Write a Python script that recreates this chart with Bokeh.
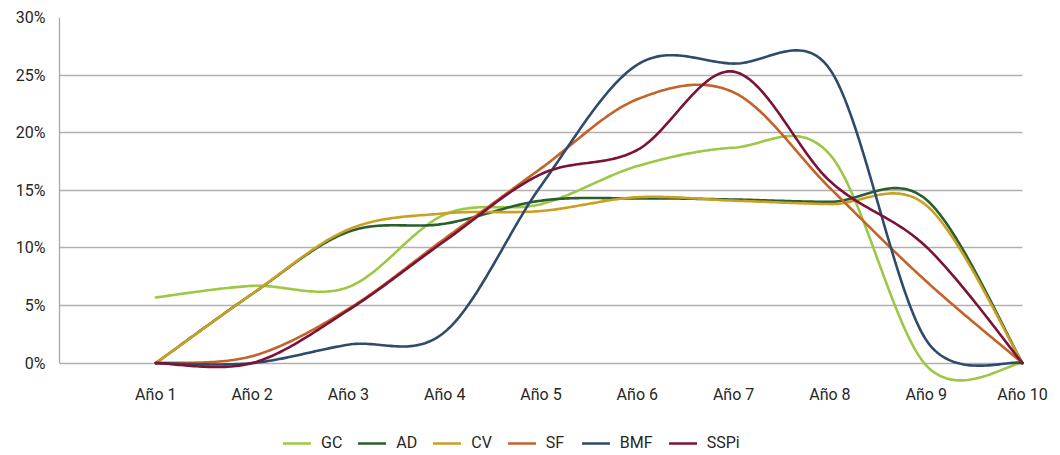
import math
import numpy as np
from bokeh.plotting import figure
from bokeh.models import Range1d, FixedTicker, Legend, LegendItem, Grid
from bokeh.embed import file_html
from bokeh.resources import INLINE

# ---- data (percent values) ----
years = ["Año 1", "Año 2", "Año 3", "Año 4", "Año 5",
         "Año 6", "Año 7", "Año 8", "Año 9", "Año 10"]
series_names = ["GC", "AD", "CV", "SF", "BMF", "SSPi"]
GC = [5.7, 6.7, 6.6, 12.9, 13.8, 17.1, 18.7, 18.1, -0.2, 0.0]
AD = [0.0, 6.0, 11.4, 12.1, 14.1, 14.3, 14.2, 14.0, 14.2, 0.0]
CV = [0.0, 6.0, 11.6, 13.0, 13.2, 14.4, 14.1, 13.8, 13.7, 0.0]
SF = [0.0, 0.6, 4.7, 10.8, 16.9, 22.9, 23.5, 15.2, 7.1, 0.0]
BMF = [0.0, 0.0, 1.6, 2.7, 15.4, 25.9, 26.0, 25.5, 2.0, 0.0]
SSPi = [0.0, 0.0, 4.6, 10.6, 16.4, 18.5, 25.3, 15.8, 10.1, 0.0]
y_ticks = [0, 5, 10, 15, 20, 25, 30]
y_tick_labels = ["0%", "5%", "10%", "15%", "20%", "25%", "30%"]

colors = ["#9DC745", "#2A5E2C", "#C9A024", "#C5622A", "#2F4B6B", "#7B1339"]

FONT = "Roboto"
TEXT_COLOR = "#262626"

x_pos = list(range(1, len(years) + 1))
X_LAST = x_pos[-1]

FRAME_W = 1001
FRAME_H = 438
PX_PER_X = 96.3
PX_PER_PCT = 11.52
X_START = 0
X_END = X_START + FRAME_W / PX_PER_X
Y_END = 30
Y_START = Y_END - FRAME_H / PX_PER_PCT
SX = PX_PER_X
SY = PX_PER_PCT
LINE_W = 2.6


def smooth(xs, ys, n=40):
    """Excel-like smoothed line: cubic Bezier segments whose control
    points come from neighbouring points (computed in screen space)."""
    pts = list(zip(xs, ys))
    N = len(pts)
    ox, oy = [], []

    def dist(a, b):
        return math.hypot((a[0] - b[0]) * SX, (a[1] - b[1]) * SY)

    for i in range(N - 1):
        p0 = pts[i - 1] if i > 0 else pts[i]
        p1 = pts[i]
        p2 = pts[i + 1]
        p3 = pts[i + 2] if i + 2 < N else pts[i + 1]
        d02, d12, d13 = dist(p0, p2), dist(p1, p2), dist(p1, p3)
        f0 = f1 = 1.0 / 6.0
        if d02 > 0 and d02 / 6 >= d12 / 2:
            f0 = d12 / (2 * d02)
        if d13 > 0 and d13 / 6 >= d12 / 2:
            f1 = d12 / (2 * d13)
        c1 = (p1[0] + f0 * (p2[0] - p0[0]), p1[1] + f0 * (p2[1] - p0[1]))
        c2 = (p2[0] - f1 * (p3[0] - p1[0]), p2[1] - f1 * (p3[1] - p1[1]))
        t = np.linspace(0, 1, n)
        if i < N - 2:
            t = t[:-1]
        a = (1 - t) ** 3
        b = 3 * (1 - t) ** 2 * t
        c = 3 * (1 - t) * t ** 2
        d = t ** 3
        ox.extend(a * p1[0] + b * c1[0] + c * c2[0] + d * p2[0])
        oy.extend(a * p1[1] + b * c1[1] + c * c2[1] + d * p2[1])
    return ox, oy


p = figure(frame_width=FRAME_W, frame_height=FRAME_H,
           x_range=Range1d(X_START, X_END), y_range=Range1d(Y_START, Y_END),
           output_backend="svg", toolbar_location=None, title=None,
           min_border_left=59, min_border_right=0,
           min_border_top=17, min_border_bottom=0)
p.outline_line_color = None
p.background_fill_color = "white"
p.border_fill_color = "white"

# x axis drawn at the 0% line (takes no panel space)
p.xaxis.fixed_location = 0
p.xaxis.ticker = FixedTicker(ticks=x_pos)
p.xaxis.major_label_overrides = {x: lab for x, lab in zip(x_pos, years)}
p.xaxis.axis_line_color = None
p.xaxis.major_tick_line_color = None
p.xaxis.minor_tick_line_color = None
p.xaxis.major_tick_out = 0
p.xaxis.major_tick_in = 0
p.xaxis.major_label_standoff = 22
p.xaxis.major_label_text_font = FONT
p.xaxis.major_label_text_font_size = "16px"
p.xaxis.major_label_text_color = TEXT_COLOR

p.yaxis.ticker = FixedTicker(ticks=y_ticks)
p.yaxis.major_label_overrides = {v: lab for v, lab in zip(y_ticks, y_tick_labels)}
p.yaxis.bounds = (y_ticks[0], y_ticks[-1])
p.yaxis.axis_line_color = "#a8a8a8"
p.yaxis.axis_line_width = 1.3
p.yaxis.major_tick_line_color = None
p.yaxis.minor_tick_line_color = None
p.yaxis.major_tick_out = 0
p.yaxis.major_tick_in = 0
p.yaxis.major_label_standoff = 14
p.yaxis.major_label_text_font = FONT
p.yaxis.major_label_text_font_size = "16px"
p.yaxis.major_label_text_color = TEXT_COLOR

p.xgrid.grid_line_color = None
GRID_COLOR = "#b0b0b0"
GRID_W = 1.3
if "cross_bounds" in Grid.properties():
    p.ygrid.grid_line_color = GRID_COLOR
    p.ygrid.grid_line_width = GRID_W
    p.ygrid.cross_bounds = (X_START, X_LAST)
else:
    # horizontal grid lines limited to the plotting area
    p.ygrid.grid_line_color = None
    p.segment(x0=[X_START] * len(y_ticks), x1=[X_LAST] * len(y_ticks),
              y0=y_ticks, y1=y_ticks, line_color=GRID_COLOR, line_width=GRID_W)

items = []
for name, vals, col in zip(series_names, [GC, AD, CV, SF, BMF, SSPi], colors):
    sx, sy = smooth(x_pos, vals)
    r = p.line(sx, sy, line_color=col, line_width=LINE_W,
               line_join="round", line_cap="round")
    items.append(LegendItem(label=name, renderers=[r]))

legend = Legend(items=items, orientation="horizontal",
                location=(224, 3),
                glyph_width=28, glyph_height=16, label_height=16,
                label_standoff=10, spacing=16,
                padding=0, margin=0,
                border_line_color=None, background_fill_alpha=0,
                label_text_font=FONT, label_text_font_size="16px",
                label_text_color=TEXT_COLOR)
p.add_layout(legend, "center")

open("out.html", "w").write(file_html(p, INLINE))
